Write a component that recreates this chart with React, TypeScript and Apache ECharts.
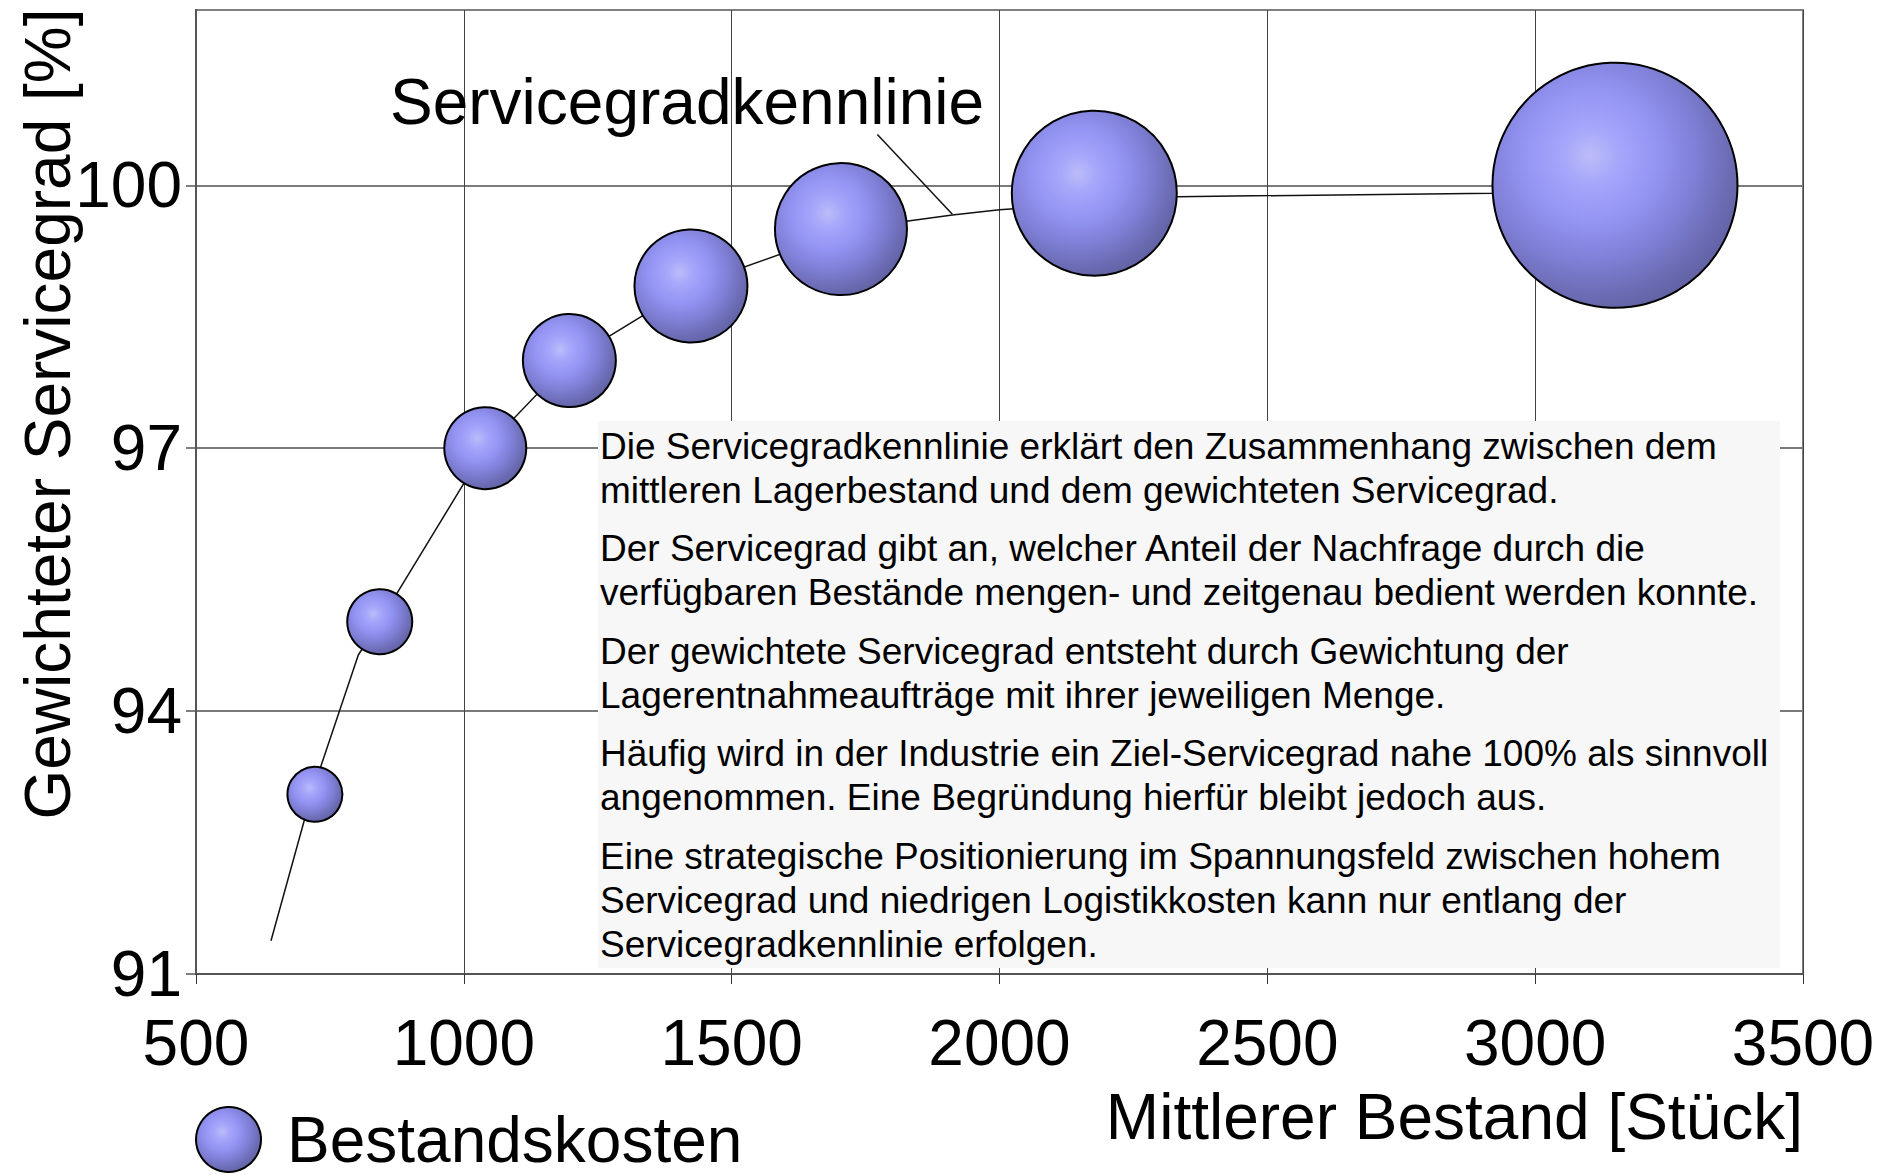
import React, { useEffect, useRef } from "react";
import * as echarts from "echarts";

// Bubble series: mittlerer Bestand [Stück] vs. gewichteter Servicegrad [%], bubble = Bestandskosten
const bestandX = [722, 843, 1040, 1197, 1424, 1704, 2177, 3149];
const servicegradY = [93.05, 95.02, 97.0, 98.0, 98.85, 99.5, 99.91, 100.0];
const bestandskosten = [55, 65, 82, 93, 113, 132, 165, 245];

// Servicegradkennlinie (curve)
const kennlinieX = [640, 716, 803, 843, 1040, 1197, 1424, 1704, 1826, 1912, 2000, 2331, 2921, 3149];
const kennlinieY = [91.38, 93.06, 94.64, 95.02, 97.0, 98.0, 98.85, 99.46, 99.59, 99.66, 99.72, 99.87, 99.91, 99.93];

// Leader line of the annotation (data coordinates)
const leaderFrom = [1772, 100.58];
const leaderTo = [1912, 99.67];

const xTicks = [500, 1000, 1500, 2000, 2500, 3000, 3500];
const yTicks = [91, 94, 97, 100];
const yMax = 102;

const yTitle = "Gewichteter Servicegrad [%]";
const xTitle = "Mittlerer Bestand [Stück]";
const seriesName = "Bestandskosten";
const curveLabel = "Servicegradkennlinie";

const infoParagraphs = [
  "Die Servicegradkennlinie erklärt den Zusammenhang zwischen dem\nmittleren Lagerbestand und dem gewichteten Servicegrad.",
  "Der Servicegrad gibt an, welcher Anteil der Nachfrage durch die\nverfügbaren Bestände mengen- und zeitgenau bedient werden konnte.",
  "Der gewichtete Servicegrad entsteht durch Gewichtung der\nLagerentnahmeaufträge mit ihrer jeweiligen Menge.",
  "Häufig wird in der Industrie ein Ziel-Servicegrad nahe 100% als sinnvoll\nangenommen. Eine Begründung hierfür bleibt jedoch aus.",
  "Eine strategische Positionierung im Spannungsfeld zwischen hohem\nServicegrad und niedrigen Logistikkosten kann nur entlang der\nServicegradkennlinie erfolgen.",
];

const FONT = "'Liberation Sans', Arial, Helvetica, sans-serif";

export default function App() {
  const ref = useRef<HTMLDivElement>(null);

  useEffect(() => {
    if (!ref.current) return;
    const chart = echarts.init(ref.current, null, { renderer: "svg" });

    const bubbleFill = {
      type: "radial",
      x: 0.4,
      y: 0.38,
      r: 0.64,
      colorStops: [
        { offset: 0, color: "#bcbcf8" },
        { offset: 0.18, color: "#a6a6fb" },
        { offset: 0.42, color: "#9494f4" },
        { offset: 0.66, color: "#8080d8" },
        { offset: 0.85, color: "#6f6fba" },
        { offset: 1, color: "#6363a6" },
      ],
    };

    const paraTop0 = 424;
    const paraStep = 102.5;

    const graphics: any[] = [
      {
        type: "text",
        x: 48,
        y: 414,
        rotation: Math.PI / 2,
        style: {
          text: yTitle,
          fontSize: 64,
          fontFamily: FONT,
          fill: "#000",
          align: "center",
          verticalAlign: "middle",
          textAlign: "center",
          textVerticalAlign: "middle",
        },
      },
      {
        type: "text",
        x: 1803,
        y: 1117,
        style: {
          text: xTitle,
          fontSize: 64,
          fontFamily: FONT,
          fill: "#000",
          align: "right",
          verticalAlign: "middle",
          textAlign: "right",
          textVerticalAlign: "middle",
        },
      },
      {
        type: "text",
        x: 390,
        y: 102,
        z: 20,
        style: {
          text: curveLabel,
          fontSize: 64,
          fontFamily: FONT,
          fill: "#000",
          align: "left",
          verticalAlign: "middle",
          textAlign: "left",
          textVerticalAlign: "middle",
        },
      },
      {
        type: "rect",
        z: 10,
        shape: { x: 598, y: 421, width: 1182, height: 547 },
        style: { fill: "#f7f7f7" },
      },
      ...infoParagraphs.map((p, i) => ({
        type: "text",
        z: 11,
        x: 600,
        y: paraTop0 + i * paraStep,
        style: {
          text: p,
          fontSize: 37,
          lineHeight: 44.3,
          fontFamily: FONT,
          fill: "#000",
          align: "left",
          verticalAlign: "top",
          textAlign: "left",
          textVerticalAlign: "top",
        },
      })),
    ];

    const option: any = {
      animation: false,
      backgroundColor: "#ffffff",
      textStyle: { fontFamily: FONT },
      grid: {
        left: 196,
        top: 10,
        width: 1607,
        height: 964,
        show: true,
        borderColor: "#808080",
        borderWidth: 2,
        backgroundColor: "transparent",
        containLabel: false,
        outerBoundsMode: "none",
      },
      xAxis: {
        type: "value",
        min: xTicks[0],
        max: xTicks[xTicks.length - 1],
        interval: xTicks[1] - xTicks[0],
        axisLine: { show: true, onZero: false, lineStyle: { color: "#555", width: 2 } },
        axisTick: { show: true, inside: false, length: 10, lineStyle: { color: "#333", width: 1 } },
        axisLabel: {
          fontSize: 64,
          color: "#000",
          margin: 37,
          fontFamily: FONT,
          formatter: (v: number) => String(v),
        },
        splitLine: { show: true, lineStyle: { color: "#444", width: 1 } },
      },
      yAxis: {
        type: "value",
        min: yTicks[0],
        max: yMax,
        interval: yTicks[1] - yTicks[0],
        axisLine: { show: true, onZero: false, lineStyle: { color: "#555", width: 2 } },
        axisTick: {
          show: true,
          inside: false,
          length: 10,
          lineStyle: { color: "#555", width: 1.5 },
          customValues: yTicks,
        },
        axisLabel: {
          fontSize: 64,
          color: "#000",
          margin: 14,
          fontFamily: FONT,
          customValues: yTicks,
          formatter: (v: number) => String(v),
        },
        splitLine: { show: true, lineStyle: { color: "#7a7a7a", width: 2 } },
      },
      legend: {
        show: true,
        left: 195,
        top: 1106,
        padding: 0,
        itemWidth: 65,
        itemHeight: 65,
        icon: "circle",
        data: [seriesName],
        textStyle: {
          fontSize: 64,
          lineHeight: 46,
          color: "#000",
          fontFamily: FONT,
          padding: [0, 0, 0, 21],
        },
      },
      series: [
        {
          name: curveLabel,
          type: "line",
          data: kennlinieX.map((x, i) => [x, kennlinieY[i]]),
          symbol: "none",
          smooth: false,
          z: 2,
          lineStyle: { color: "#111", width: 1.5 },
          silent: true,
          markLine: {
            silent: true,
            symbol: ["none", "none"],
            label: { show: false },
            lineStyle: { color: "#111", width: 1.5, type: "solid" },
            data: [[{ coord: leaderFrom }, { coord: leaderTo }]],
          },
        },
        {
          name: seriesName,
          type: "scatter",
          z: 3,
          data: bestandX.map((x, i) => [x, servicegradY[i], bestandskosten[i]]),
          symbol: "circle",
          symbolSize: (v: number[]) => v[2],
          itemStyle: {
            color: bubbleFill,
            borderColor: "#000",
            borderWidth: 2,
            opacity: 1,
          },
          emphasis: { disabled: true },
        },
      ],
      graphic: { elements: graphics },
    };

    chart.setOption(option);
    return () => chart.dispose();
  }, []);

  return (
    <div
      ref={ref}
      style={{ position: "fixed", left: 0, top: 0, width: 1885, height: 1175, background: "#fff" }}
    />
  );
}
